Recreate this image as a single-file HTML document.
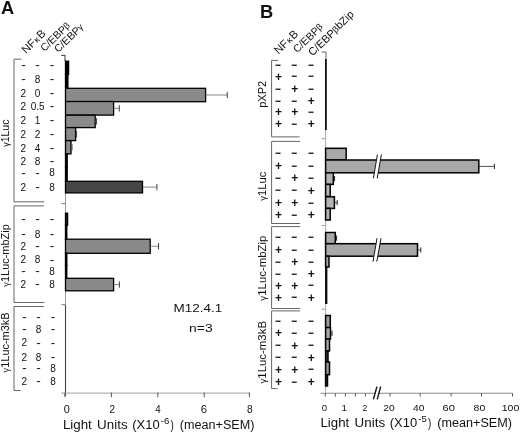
<!DOCTYPE html>
<html><head><meta charset="utf-8"><style>
html,body{margin:0;padding:0;background:#fff;overflow:hidden;}
svg{display:block;}
text{font-family:"Liberation Sans", Arial, sans-serif;fill:#111;}
</style></head><body>
<svg width="520" height="433" viewBox="0 0 520 433">
<rect width="520" height="433" fill="#fff"/>
<text x="1.10" y="14.40" font-size="18.2" text-anchor="start" font-weight="bold" >A</text>
<text x="25.90" y="54.20" font-size="11.3" transform="rotate(-44 25.90 54.20)">NF<tspan font-size="9" dx="0.8">&#954;</tspan><tspan dx="0.8">B</tspan></text>
<text x="44.50" y="52.00" font-size="10.5" transform="rotate(-44 44.50 52.00)">C/EBP<tspan font-size="9" dy="-0.6">&#946;</tspan></text>
<text x="58.30" y="53.00" font-size="10.5" transform="rotate(-44 58.30 53.00)">C/EBP<tspan font-size="9" dy="-0.6">&#947;</tspan></text>
<text x="23.40" y="68.50" font-size="13.5" text-anchor="middle">-</text>
<text x="37.60" y="68.50" font-size="13.5" text-anchor="middle">-</text>
<text x="52.00" y="68.50" font-size="13.5" text-anchor="middle">-</text>
<text x="23.40" y="82.90" font-size="13.5" text-anchor="middle">-</text>
<text x="37.60" y="82.70" font-size="10" text-anchor="middle" font-weight="normal" >8</text>
<text x="52.00" y="82.90" font-size="13.5" text-anchor="middle">-</text>
<text x="23.40" y="96.80" font-size="10" text-anchor="middle" font-weight="normal" >2</text>
<text x="37.60" y="96.80" font-size="10" text-anchor="middle" font-weight="normal" >0</text>
<text x="52.00" y="97.00" font-size="13.5" text-anchor="middle">-</text>
<text x="23.40" y="109.50" font-size="10" text-anchor="middle" font-weight="normal" >2</text>
<text x="37.60" y="109.50" font-size="10" text-anchor="middle" font-weight="normal" >0.5</text>
<text x="52.00" y="109.70" font-size="13.5" text-anchor="middle">-</text>
<text x="23.40" y="123.70" font-size="10" text-anchor="middle" font-weight="normal" >2</text>
<text x="37.60" y="123.70" font-size="10" text-anchor="middle" font-weight="normal" >1</text>
<text x="52.00" y="123.90" font-size="13.5" text-anchor="middle">-</text>
<text x="23.40" y="138.00" font-size="10" text-anchor="middle" font-weight="normal" >2</text>
<text x="37.60" y="138.00" font-size="10" text-anchor="middle" font-weight="normal" >2</text>
<text x="52.00" y="138.20" font-size="13.5" text-anchor="middle">-</text>
<text x="23.40" y="151.50" font-size="10" text-anchor="middle" font-weight="normal" >2</text>
<text x="37.60" y="151.50" font-size="10" text-anchor="middle" font-weight="normal" >4</text>
<text x="52.00" y="151.70" font-size="13.5" text-anchor="middle">-</text>
<text x="23.40" y="164.50" font-size="10" text-anchor="middle" font-weight="normal" >2</text>
<text x="37.60" y="164.50" font-size="10" text-anchor="middle" font-weight="normal" >8</text>
<text x="52.00" y="164.70" font-size="13.5" text-anchor="middle">-</text>
<text x="23.40" y="176.50" font-size="13.5" text-anchor="middle">-</text>
<text x="37.60" y="176.50" font-size="13.5" text-anchor="middle">-</text>
<text x="52.00" y="176.30" font-size="10" text-anchor="middle" font-weight="normal" >8</text>
<text x="23.40" y="191.00" font-size="10" text-anchor="middle" font-weight="normal" >2</text>
<text x="37.60" y="191.20" font-size="13.5" text-anchor="middle">-</text>
<text x="52.00" y="191.00" font-size="10" text-anchor="middle" font-weight="normal" >8</text>
<text x="23.40" y="223.40" font-size="13.5" text-anchor="middle">-</text>
<text x="37.60" y="223.40" font-size="13.5" text-anchor="middle">-</text>
<text x="52.00" y="223.40" font-size="13.5" text-anchor="middle">-</text>
<text x="23.40" y="237.80" font-size="13.5" text-anchor="middle">-</text>
<text x="37.60" y="237.60" font-size="10" text-anchor="middle" font-weight="normal" >8</text>
<text x="52.00" y="237.80" font-size="13.5" text-anchor="middle">-</text>
<text x="23.40" y="249.80" font-size="10" text-anchor="middle" font-weight="normal" >2</text>
<text x="37.60" y="250.00" font-size="13.5" text-anchor="middle">-</text>
<text x="52.00" y="250.00" font-size="13.5" text-anchor="middle">-</text>
<text x="23.40" y="263.40" font-size="10" text-anchor="middle" font-weight="normal" >2</text>
<text x="37.60" y="263.40" font-size="10" text-anchor="middle" font-weight="normal" >8</text>
<text x="52.00" y="263.60" font-size="13.5" text-anchor="middle">-</text>
<text x="23.40" y="274.70" font-size="13.5" text-anchor="middle">-</text>
<text x="37.60" y="274.70" font-size="13.5" text-anchor="middle">-</text>
<text x="52.00" y="274.50" font-size="10" text-anchor="middle" font-weight="normal" >8</text>
<text x="23.40" y="288.00" font-size="10" text-anchor="middle" font-weight="normal" >2</text>
<text x="37.60" y="288.20" font-size="13.5" text-anchor="middle">-</text>
<text x="52.00" y="288.00" font-size="10" text-anchor="middle" font-weight="normal" >8</text>
<text x="24.40" y="320.70" font-size="13.5" text-anchor="middle">-</text>
<text x="38.60" y="320.70" font-size="13.5" text-anchor="middle">-</text>
<text x="53.00" y="320.70" font-size="13.5" text-anchor="middle">-</text>
<text x="24.40" y="333.30" font-size="13.5" text-anchor="middle">-</text>
<text x="38.60" y="333.10" font-size="10" text-anchor="middle" font-weight="normal" >8</text>
<text x="53.00" y="333.30" font-size="13.5" text-anchor="middle">-</text>
<text x="24.40" y="346.40" font-size="10" text-anchor="middle" font-weight="normal" >2</text>
<text x="38.60" y="346.60" font-size="13.5" text-anchor="middle">-</text>
<text x="53.00" y="346.60" font-size="13.5" text-anchor="middle">-</text>
<text x="24.40" y="361.20" font-size="10" text-anchor="middle" font-weight="normal" >2</text>
<text x="38.60" y="361.20" font-size="10" text-anchor="middle" font-weight="normal" >8</text>
<text x="53.00" y="361.40" font-size="13.5" text-anchor="middle">-</text>
<text x="24.40" y="372.10" font-size="13.5" text-anchor="middle">-</text>
<text x="38.60" y="372.10" font-size="13.5" text-anchor="middle">-</text>
<text x="53.00" y="371.90" font-size="10" text-anchor="middle" font-weight="normal" >8</text>
<text x="24.40" y="384.50" font-size="10" text-anchor="middle" font-weight="normal" >2</text>
<text x="38.60" y="384.70" font-size="13.5" text-anchor="middle">-</text>
<text x="53.00" y="384.50" font-size="10" text-anchor="middle" font-weight="normal" >8</text>
<text x="0" y="0" transform="translate(9.00 146.83) rotate(-90)" textLength="27.31" lengthAdjust="spacingAndGlyphs"><tspan font-size="8.5">γ</tspan><tspan font-size="10">1Luc</tspan></text>
<text x="0" y="0" transform="translate(9.00 286.63) rotate(-90)" textLength="62.39" lengthAdjust="spacingAndGlyphs"><tspan font-size="8.5">γ</tspan><tspan font-size="10">1Luc-mbZip</tspan></text>
<text x="0" y="0" transform="translate(9.00 372.43) rotate(-90)" textLength="60.01" lengthAdjust="spacingAndGlyphs"><tspan font-size="8.5">γ</tspan><tspan font-size="10">1Luc-m3kB</tspan></text>
<path d="M21.3 59.2 H14.0 V201.8 H44.4" fill="none" stroke="#666" stroke-width="1.0"/>
<path d="M44.0 205.9 H14.0 V302.5 H44.4" fill="none" stroke="#666" stroke-width="1.0"/>
<path d="M44.0 306.5 H14.0 V390.5 H20.5" fill="none" stroke="#666" stroke-width="1.0"/>
<path d="M61.2 55.4 H65 V61" fill="none" stroke="#333" stroke-width="1"/>
<line x1="65.5" y1="55.4" x2="65.5" y2="393" stroke="#999" stroke-width="1"/>
<line x1="61.5" y1="203.7" x2="65" y2="203.7" stroke="#777" stroke-width="1"/>
<line x1="61.5" y1="304.7" x2="65" y2="304.7" stroke="#777" stroke-width="1"/>
<rect x="65.50" y="61.20" width="3.10" height="13.20" fill="#000" stroke="#000" stroke-width="1.3"/>
<rect x="65.50" y="74.40" width="2.40" height="13.10" fill="#000" stroke="#000" stroke-width="1.3"/>
<rect x="65.50" y="88.30" width="140.10" height="13.40" fill="#8a8a8a" stroke="#000" stroke-width="1.3"/>
<line x1="205.6" y1="95.0" x2="227.3" y2="95.0" stroke="#666" stroke-width="0.8"/>
<line x1="227.3" y1="91.8" x2="227.3" y2="98.2" stroke="#444" stroke-width="1"/>
<rect x="65.50" y="101.50" width="48.10" height="13.60" fill="#8a8a8a" stroke="#000" stroke-width="1.3"/>
<line x1="113.6" y1="108.3" x2="119.3" y2="108.3" stroke="#666" stroke-width="0.8"/>
<line x1="119.3" y1="105.1" x2="119.3" y2="111.5" stroke="#444" stroke-width="1"/>
<rect x="65.50" y="115.20" width="29.70" height="12.40" fill="#8a8a8a" stroke="#000" stroke-width="1.3"/>
<line x1="95.2" y1="121.4" x2="96.6" y2="121.4" stroke="#666" stroke-width="0.8"/>
<line x1="96.6" y1="118.2" x2="96.6" y2="124.60000000000001" stroke="#444" stroke-width="1"/>
<rect x="65.50" y="127.60" width="10.10" height="13.00" fill="#8a8a8a" stroke="#000" stroke-width="1.3"/>
<line x1="75.6" y1="134.1" x2="76.6" y2="134.1" stroke="#666" stroke-width="0.8"/>
<line x1="76.6" y1="130.9" x2="76.6" y2="137.29999999999998" stroke="#444" stroke-width="1"/>
<rect x="65.50" y="140.60" width="5.50" height="13.30" fill="#8a8a8a" stroke="#000" stroke-width="1.3"/>
<line x1="71.0" y1="147.25" x2="72.0" y2="147.25" stroke="#666" stroke-width="0.8"/>
<line x1="72.0" y1="144.05" x2="72.0" y2="150.45" stroke="#444" stroke-width="1"/>
<rect x="65.50" y="153.90" width="1.70" height="13.60" fill="#000" stroke="#000" stroke-width="1.3"/>
<rect x="65.50" y="167.50" width="1.70" height="13.80" fill="#000" stroke="#000" stroke-width="1.3"/>
<rect x="65.50" y="181.30" width="77.00" height="11.60" fill="#464646" stroke="#000" stroke-width="1.3"/>
<line x1="142.5" y1="187.10000000000002" x2="156.9" y2="187.10000000000002" stroke="#666" stroke-width="0.8"/>
<line x1="156.9" y1="183.90000000000003" x2="156.9" y2="190.3" stroke="#444" stroke-width="1"/>
<rect x="65.50" y="213.20" width="2.10" height="12.10" fill="#222" stroke="#000" stroke-width="1.3"/>
<rect x="65.50" y="225.30" width="1.30" height="14.00" fill="#000" stroke="#000" stroke-width="1.3"/>
<rect x="65.50" y="239.20" width="84.70" height="14.10" fill="#8a8a8a" stroke="#000" stroke-width="1.3"/>
<line x1="150.2" y1="246.25" x2="158.5" y2="246.25" stroke="#666" stroke-width="0.8"/>
<line x1="158.5" y1="243.05" x2="158.5" y2="249.45" stroke="#444" stroke-width="1"/>
<rect x="65.50" y="253.20" width="1.30" height="12.30" fill="#000" stroke="#000" stroke-width="1.3"/>
<rect x="65.50" y="265.50" width="1.30" height="12.60" fill="#000" stroke="#000" stroke-width="1.3"/>
<rect x="65.50" y="278.30" width="48.10" height="12.50" fill="#8a8a8a" stroke="#000" stroke-width="1.3"/>
<line x1="113.6" y1="284.55" x2="119.4" y2="284.55" stroke="#666" stroke-width="0.8"/>
<line x1="119.4" y1="281.35" x2="119.4" y2="287.75" stroke="#444" stroke-width="1"/>
<rect x="64.95" y="305" width="1.1" height="91" fill="#444"/>
<line x1="61" y1="393.1" x2="250" y2="393.1" stroke="#b0b0b0" stroke-width="1.2"/>
<line x1="64.9" y1="392.6" x2="64.9" y2="397.2" stroke="#555" stroke-width="1"/>
<line x1="111.4" y1="392.6" x2="111.4" y2="397.2" stroke="#555" stroke-width="1"/>
<line x1="157.8" y1="392.6" x2="157.8" y2="397.2" stroke="#555" stroke-width="1"/>
<line x1="204.2" y1="392.6" x2="204.2" y2="397.2" stroke="#555" stroke-width="1"/>
<line x1="249.4" y1="392.6" x2="249.4" y2="397.2" stroke="#555" stroke-width="1"/>
<text x="63.83" y="412.60" font-size="10.5" textLength="6.05" lengthAdjust="spacingAndGlyphs" >0</text>
<text x="109.55" y="412.60" font-size="10.5" textLength="5.49" lengthAdjust="spacingAndGlyphs" >2</text>
<text x="155.13" y="412.60" font-size="10.5" textLength="5.41" lengthAdjust="spacingAndGlyphs" >4</text>
<text x="200.88" y="412.60" font-size="10.5" textLength="6.27" lengthAdjust="spacingAndGlyphs" >6</text>
<text x="246.91" y="412.60" font-size="10.5" textLength="5.69" lengthAdjust="spacingAndGlyphs" >8</text>
<text x="62.91" y="428.60" font-size="12.0" textLength="28.89" lengthAdjust="spacingAndGlyphs" >Light</text>
<text x="97.07" y="428.60" font-size="12.0" textLength="30.52" lengthAdjust="spacingAndGlyphs" >Units</text>
<text x="132.30" y="428.60" font-size="12.0" textLength="27.41" lengthAdjust="spacingAndGlyphs" >(X10</text>
<text x="160.87" y="424.20" font-size="8.5" textLength="8.55" lengthAdjust="spacingAndGlyphs" >-6</text>
<text x="170.44" y="428.60" font-size="12.0" textLength="3.27" lengthAdjust="spacingAndGlyphs" >)</text>
<text x="179.72" y="428.60" font-size="12.0" textLength="74.77" lengthAdjust="spacingAndGlyphs" >(mean+SEM)</text>
<text x="173.50" y="311.70" font-size="11.0" textLength="48.66" lengthAdjust="spacingAndGlyphs" >M12.4.1</text>
<text x="189.08" y="332.00" font-size="11.0" textLength="23.53" lengthAdjust="spacingAndGlyphs" >n=3</text>
<text x="259.90" y="17.70" font-size="18.3" text-anchor="start" font-weight="bold" >B</text>
<text x="278.40" y="54.80" font-size="11.3" transform="rotate(-44 278.40 54.80)">NF<tspan font-size="9" dx="0.8">&#954;</tspan><tspan dx="0.8">B</tspan></text>
<text x="297.30" y="53.30" font-size="10.5" transform="rotate(-44 297.30 53.30)">C/EBP<tspan font-size="9" dy="-0.6">&#946;</tspan></text>
<text x="312.60" y="56.60" font-size="10.9" transform="rotate(-44 312.60 56.60)">C/EBP<tspan font-size="9" dy="-0.6">&#946;</tspan>bZip</text>
<text x="0" y="0" transform="translate(278.30 69.00) scale(0.84 1)" font-size="12" font-weight="bold" text-anchor="middle">&#8722;</text>
<text x="0" y="0" transform="translate(294.50 69.00) scale(0.84 1)" font-size="12" font-weight="bold" text-anchor="middle">&#8722;</text>
<text x="0" y="0" transform="translate(311.10 69.00) scale(0.84 1)" font-size="12" font-weight="bold" text-anchor="middle">&#8722;</text>
<text x="278.50" y="80.60" font-size="12" font-weight="bold" text-anchor="middle">+</text>
<text x="0" y="0" transform="translate(294.50 80.40) scale(0.84 1)" font-size="12" font-weight="bold" text-anchor="middle">&#8722;</text>
<text x="0" y="0" transform="translate(311.10 80.40) scale(0.84 1)" font-size="12" font-weight="bold" text-anchor="middle">&#8722;</text>
<text x="0" y="0" transform="translate(278.30 92.90) scale(0.84 1)" font-size="12" font-weight="bold" text-anchor="middle">&#8722;</text>
<text x="294.70" y="93.10" font-size="12" font-weight="bold" text-anchor="middle">+</text>
<text x="0" y="0" transform="translate(311.10 92.90) scale(0.84 1)" font-size="12" font-weight="bold" text-anchor="middle">&#8722;</text>
<text x="0" y="0" transform="translate(278.30 104.50) scale(0.84 1)" font-size="12" font-weight="bold" text-anchor="middle">&#8722;</text>
<text x="0" y="0" transform="translate(294.50 104.50) scale(0.84 1)" font-size="12" font-weight="bold" text-anchor="middle">&#8722;</text>
<text x="311.30" y="104.70" font-size="12" font-weight="bold" text-anchor="middle">+</text>
<text x="278.50" y="116.20" font-size="12" font-weight="bold" text-anchor="middle">+</text>
<text x="294.70" y="116.20" font-size="12" font-weight="bold" text-anchor="middle">+</text>
<text x="0" y="0" transform="translate(311.10 116.00) scale(0.84 1)" font-size="12" font-weight="bold" text-anchor="middle">&#8722;</text>
<text x="278.50" y="128.00" font-size="12" font-weight="bold" text-anchor="middle">+</text>
<text x="0" y="0" transform="translate(294.50 127.80) scale(0.84 1)" font-size="12" font-weight="bold" text-anchor="middle">&#8722;</text>
<text x="311.30" y="128.00" font-size="12" font-weight="bold" text-anchor="middle">+</text>
<text x="0" y="0" transform="translate(278.30 157.30) scale(0.84 1)" font-size="12" font-weight="bold" text-anchor="middle">&#8722;</text>
<text x="0" y="0" transform="translate(294.50 157.30) scale(0.84 1)" font-size="12" font-weight="bold" text-anchor="middle">&#8722;</text>
<text x="0" y="0" transform="translate(311.10 157.30) scale(0.84 1)" font-size="12" font-weight="bold" text-anchor="middle">&#8722;</text>
<text x="278.50" y="170.00" font-size="12" font-weight="bold" text-anchor="middle">+</text>
<text x="0" y="0" transform="translate(294.50 169.80) scale(0.84 1)" font-size="12" font-weight="bold" text-anchor="middle">&#8722;</text>
<text x="0" y="0" transform="translate(311.10 169.80) scale(0.84 1)" font-size="12" font-weight="bold" text-anchor="middle">&#8722;</text>
<text x="0" y="0" transform="translate(278.30 182.20) scale(0.84 1)" font-size="12" font-weight="bold" text-anchor="middle">&#8722;</text>
<text x="294.70" y="182.40" font-size="12" font-weight="bold" text-anchor="middle">+</text>
<text x="0" y="0" transform="translate(311.10 182.20) scale(0.84 1)" font-size="12" font-weight="bold" text-anchor="middle">&#8722;</text>
<text x="0" y="0" transform="translate(278.30 194.30) scale(0.84 1)" font-size="12" font-weight="bold" text-anchor="middle">&#8722;</text>
<text x="0" y="0" transform="translate(294.50 194.30) scale(0.84 1)" font-size="12" font-weight="bold" text-anchor="middle">&#8722;</text>
<text x="311.30" y="194.50" font-size="12" font-weight="bold" text-anchor="middle">+</text>
<text x="278.50" y="207.00" font-size="12" font-weight="bold" text-anchor="middle">+</text>
<text x="294.70" y="207.00" font-size="12" font-weight="bold" text-anchor="middle">+</text>
<text x="0" y="0" transform="translate(311.10 206.80) scale(0.84 1)" font-size="12" font-weight="bold" text-anchor="middle">&#8722;</text>
<text x="278.50" y="219.00" font-size="12" font-weight="bold" text-anchor="middle">+</text>
<text x="0" y="0" transform="translate(294.50 218.80) scale(0.84 1)" font-size="12" font-weight="bold" text-anchor="middle">&#8722;</text>
<text x="311.30" y="219.00" font-size="12" font-weight="bold" text-anchor="middle">+</text>
<text x="0" y="0" transform="translate(278.30 241.40) scale(0.84 1)" font-size="12" font-weight="bold" text-anchor="middle">&#8722;</text>
<text x="0" y="0" transform="translate(294.50 241.40) scale(0.84 1)" font-size="12" font-weight="bold" text-anchor="middle">&#8722;</text>
<text x="0" y="0" transform="translate(311.10 241.40) scale(0.84 1)" font-size="12" font-weight="bold" text-anchor="middle">&#8722;</text>
<text x="278.50" y="253.70" font-size="12" font-weight="bold" text-anchor="middle">+</text>
<text x="0" y="0" transform="translate(294.50 253.50) scale(0.84 1)" font-size="12" font-weight="bold" text-anchor="middle">&#8722;</text>
<text x="0" y="0" transform="translate(311.10 253.50) scale(0.84 1)" font-size="12" font-weight="bold" text-anchor="middle">&#8722;</text>
<text x="0" y="0" transform="translate(278.30 266.00) scale(0.84 1)" font-size="12" font-weight="bold" text-anchor="middle">&#8722;</text>
<text x="294.70" y="266.20" font-size="12" font-weight="bold" text-anchor="middle">+</text>
<text x="0" y="0" transform="translate(311.10 266.00) scale(0.84 1)" font-size="12" font-weight="bold" text-anchor="middle">&#8722;</text>
<text x="0" y="0" transform="translate(278.30 277.80) scale(0.84 1)" font-size="12" font-weight="bold" text-anchor="middle">&#8722;</text>
<text x="0" y="0" transform="translate(294.50 277.80) scale(0.84 1)" font-size="12" font-weight="bold" text-anchor="middle">&#8722;</text>
<text x="311.30" y="278.00" font-size="12" font-weight="bold" text-anchor="middle">+</text>
<text x="278.50" y="289.50" font-size="12" font-weight="bold" text-anchor="middle">+</text>
<text x="294.70" y="289.50" font-size="12" font-weight="bold" text-anchor="middle">+</text>
<text x="0" y="0" transform="translate(311.10 289.30) scale(0.84 1)" font-size="12" font-weight="bold" text-anchor="middle">&#8722;</text>
<text x="278.50" y="301.50" font-size="12" font-weight="bold" text-anchor="middle">+</text>
<text x="0" y="0" transform="translate(294.50 301.30) scale(0.84 1)" font-size="12" font-weight="bold" text-anchor="middle">&#8722;</text>
<text x="311.30" y="301.50" font-size="12" font-weight="bold" text-anchor="middle">+</text>
<text x="0" y="0" transform="translate(278.30 324.80) scale(0.84 1)" font-size="12" font-weight="bold" text-anchor="middle">&#8722;</text>
<text x="0" y="0" transform="translate(294.50 324.80) scale(0.84 1)" font-size="12" font-weight="bold" text-anchor="middle">&#8722;</text>
<text x="0" y="0" transform="translate(311.10 324.80) scale(0.84 1)" font-size="12" font-weight="bold" text-anchor="middle">&#8722;</text>
<text x="278.50" y="337.10" font-size="12" font-weight="bold" text-anchor="middle">+</text>
<text x="0" y="0" transform="translate(294.50 336.90) scale(0.84 1)" font-size="12" font-weight="bold" text-anchor="middle">&#8722;</text>
<text x="0" y="0" transform="translate(311.10 336.90) scale(0.84 1)" font-size="12" font-weight="bold" text-anchor="middle">&#8722;</text>
<text x="0" y="0" transform="translate(278.30 349.30) scale(0.84 1)" font-size="12" font-weight="bold" text-anchor="middle">&#8722;</text>
<text x="294.70" y="349.50" font-size="12" font-weight="bold" text-anchor="middle">+</text>
<text x="0" y="0" transform="translate(311.10 349.30) scale(0.84 1)" font-size="12" font-weight="bold" text-anchor="middle">&#8722;</text>
<text x="0" y="0" transform="translate(278.30 361.40) scale(0.84 1)" font-size="12" font-weight="bold" text-anchor="middle">&#8722;</text>
<text x="0" y="0" transform="translate(294.50 361.40) scale(0.84 1)" font-size="12" font-weight="bold" text-anchor="middle">&#8722;</text>
<text x="311.30" y="361.60" font-size="12" font-weight="bold" text-anchor="middle">+</text>
<text x="278.50" y="373.50" font-size="12" font-weight="bold" text-anchor="middle">+</text>
<text x="294.70" y="373.50" font-size="12" font-weight="bold" text-anchor="middle">+</text>
<text x="0" y="0" transform="translate(311.10 373.30) scale(0.84 1)" font-size="12" font-weight="bold" text-anchor="middle">&#8722;</text>
<text x="278.50" y="385.90" font-size="12" font-weight="bold" text-anchor="middle">+</text>
<text x="0" y="0" transform="translate(294.50 385.70) scale(0.84 1)" font-size="12" font-weight="bold" text-anchor="middle">&#8722;</text>
<text x="311.30" y="385.90" font-size="12" font-weight="bold" text-anchor="middle">+</text>
<text x="0" y="0" transform="translate(265.60 107.81) rotate(-90)" textLength="27.07" lengthAdjust="spacingAndGlyphs"><tspan font-size="10.8">pXP2</tspan></text>
<text x="0" y="0" transform="translate(265.60 200.63) rotate(-90)" textLength="28.83" lengthAdjust="spacingAndGlyphs"><tspan font-size="9.2">γ</tspan><tspan font-size="10.8">1Luc</tspan></text>
<text x="0" y="0" transform="translate(265.60 300.63) rotate(-90)" textLength="65.11" lengthAdjust="spacingAndGlyphs"><tspan font-size="9.2">γ</tspan><tspan font-size="10.8">1Luc-mbZip</tspan></text>
<text x="0" y="0" transform="translate(265.60 383.53) rotate(-90)" textLength="62.53" lengthAdjust="spacingAndGlyphs"><tspan font-size="9.2">γ</tspan><tspan font-size="10.8">1Luc-m3kB</tspan></text>
<path d="M278.0 60.4 H271.6 V136.9 H299.7" fill="none" stroke="#666" stroke-width="1.0"/>
<path d="M300.0 141.4 H271.6 V223.5 H300.0" fill="none" stroke="#666" stroke-width="1.0"/>
<path d="M300.0 226.6 H271.6 V308.5 H300.0" fill="none" stroke="#666" stroke-width="1.0"/>
<path d="M300.0 310.9 H271.6 V388.6 H277.5" fill="none" stroke="#666" stroke-width="1.0"/>
<path d="M321.6 52 H326 V59.6" fill="none" stroke="#555" stroke-width="0.9"/>
<line x1="325.6" y1="55" x2="325.6" y2="393.6" stroke="#aaa" stroke-width="1"/>
<line x1="321.5" y1="138.7" x2="325" y2="138.7" stroke="#999" stroke-width="1"/>
<line x1="321.5" y1="225.6" x2="325" y2="225.6" stroke="#999" stroke-width="1"/>
<line x1="321.5" y1="309.1" x2="325" y2="309.1" stroke="#999" stroke-width="1"/>
<rect x="325.0" y="59" width="1.8" height="71" fill="#111"/>
<rect x="325.60" y="148.30" width="20.60" height="11.70" fill="#a8a8a8" stroke="#000" stroke-width="1.5"/>
<rect x="325.60" y="160.00" width="153.20" height="12.80" fill="#a8a8a8" stroke="#000" stroke-width="1.5"/>
<line x1="478.8" y1="166.4" x2="494.4" y2="166.4" stroke="#222" stroke-width="0.8"/>
<line x1="494.4" y1="163.8" x2="494.4" y2="169.0" stroke="#222" stroke-width="1"/>
<polygon points="373.2,178.3 377.2,154.5 381.4,154.5 377.4,178.3" fill="#fff"/>
<line x1="373.4" y1="178.3" x2="377.4" y2="154.5" stroke="#111" stroke-width="1"/>
<line x1="377.2" y1="178.3" x2="381.4" y2="154.5" stroke="#111" stroke-width="1"/>
<rect x="325.60" y="172.80" width="7.70" height="11.60" fill="#b4b4b4" stroke="#000" stroke-width="1.5"/>
<line x1="333.3" y1="178.60000000000002" x2="334.6" y2="178.60000000000002" stroke="#222" stroke-width="0.8"/>
<line x1="334.6" y1="176.00000000000003" x2="334.6" y2="181.20000000000002" stroke="#222" stroke-width="1"/>
<rect x="325.60" y="184.40" width="4.60" height="12.00" fill="#b4b4b4" stroke="#000" stroke-width="1.5"/>
<rect x="325.60" y="196.80" width="8.80" height="11.60" fill="#b4b4b4" stroke="#000" stroke-width="1.5"/>
<line x1="334.4" y1="202.60000000000002" x2="337.2" y2="202.60000000000002" stroke="#222" stroke-width="0.8"/>
<line x1="337.2" y1="200.00000000000003" x2="337.2" y2="205.20000000000002" stroke="#222" stroke-width="1"/>
<rect x="325.60" y="208.40" width="4.60" height="11.60" fill="#b4b4b4" stroke="#000" stroke-width="1.5"/>
<rect x="325.60" y="232.50" width="9.70" height="11.20" fill="#a8a8a8" stroke="#000" stroke-width="1.5"/>
<line x1="335.3" y1="238.1" x2="336.6" y2="238.1" stroke="#222" stroke-width="0.8"/>
<line x1="336.6" y1="235.5" x2="336.6" y2="240.7" stroke="#222" stroke-width="1"/>
<rect x="325.60" y="243.70" width="91.90" height="12.50" fill="#a8a8a8" stroke="#000" stroke-width="1.5"/>
<line x1="417.5" y1="249.95" x2="420.8" y2="249.95" stroke="#222" stroke-width="0.8"/>
<line x1="420.8" y1="247.35" x2="420.8" y2="252.54999999999998" stroke="#222" stroke-width="1"/>
<polygon points="372.8,261.7 376.8,238.2 381.0,238.2 377.0,261.7" fill="#fff"/>
<line x1="373.0" y1="261.7" x2="377.0" y2="238.2" stroke="#111" stroke-width="1"/>
<line x1="376.8" y1="261.7" x2="381.0" y2="238.2" stroke="#111" stroke-width="1"/>
<rect x="325.60" y="256.20" width="3.40" height="10.80" fill="#a8a8a8" stroke="#000" stroke-width="1.5"/>
<rect x="325.0" y="267" width="2.4" height="37" fill="#111"/>
<rect x="325.60" y="315.50" width="4.70" height="12.10" fill="#999" stroke="#000" stroke-width="1.5"/>
<rect x="325.60" y="327.60" width="4.90" height="11.40" fill="#a8a8a8" stroke="#000" stroke-width="1.5"/>
<line x1="330.5" y1="333.3" x2="332" y2="333.3" stroke="#222" stroke-width="0.8"/>
<line x1="332" y1="330.7" x2="332" y2="335.90000000000003" stroke="#222" stroke-width="1"/>
<rect x="325.60" y="339.00" width="3.90" height="12.00" fill="#aaa" stroke="#000" stroke-width="1.5"/>
<rect x="325.60" y="351.00" width="2.40" height="11.00" fill="#444" stroke="#000" stroke-width="1.5"/>
<rect x="325.60" y="362.00" width="3.90" height="12.70" fill="#999" stroke="#000" stroke-width="1.5"/>
<rect x="325.60" y="374.70" width="1.90" height="11.30" fill="#444" stroke="#000" stroke-width="1.5"/>
<line x1="320.4" y1="393.3" x2="512.5" y2="393.3" stroke="#888" stroke-width="1.1"/>
<line x1="325.3" y1="393.3" x2="325.3" y2="396.5" stroke="#555" stroke-width="1"/>
<line x1="335.3" y1="393.3" x2="335.3" y2="396.5" stroke="#555" stroke-width="1"/>
<line x1="345.4" y1="393.3" x2="345.4" y2="396.5" stroke="#555" stroke-width="1"/>
<line x1="355.4" y1="393.3" x2="355.4" y2="396.5" stroke="#555" stroke-width="1"/>
<line x1="365.4" y1="393.3" x2="365.4" y2="396.5" stroke="#555" stroke-width="1"/>
<line x1="390.1" y1="393.3" x2="390.1" y2="396.5" stroke="#555" stroke-width="1"/>
<line x1="420.2" y1="393.3" x2="420.2" y2="396.5" stroke="#555" stroke-width="1"/>
<line x1="451.1" y1="393.3" x2="451.1" y2="396.5" stroke="#555" stroke-width="1"/>
<line x1="481.5" y1="393.3" x2="481.5" y2="396.5" stroke="#555" stroke-width="1"/>
<line x1="512.5" y1="393.3" x2="512.5" y2="396.5" stroke="#555" stroke-width="1"/>
<polygon points="373.8,400 377.4,386 380.6,386 377,400" fill="#fff"/>
<line x1="373.4" y1="399.4" x2="376.9" y2="386.6" stroke="#111" stroke-width="1.4"/>
<line x1="377.2" y1="399.4" x2="380.7" y2="386.6" stroke="#111" stroke-width="1.4"/>
<text x="321.72" y="411.40" font-size="9.8" textLength="5.35" lengthAdjust="spacingAndGlyphs" >0</text>
<text x="362.57" y="411.40" font-size="9.8" textLength="4.76" lengthAdjust="spacingAndGlyphs" >2</text>
<text x="383.28" y="411.40" font-size="9.8" textLength="11.42" lengthAdjust="spacingAndGlyphs" >20</text>
<text x="413.06" y="411.40" font-size="9.8" textLength="11.44" lengthAdjust="spacingAndGlyphs" >40</text>
<text x="442.63" y="411.40" font-size="9.8" textLength="12.40" lengthAdjust="spacingAndGlyphs" >60</text>
<text x="473.54" y="411.40" font-size="9.8" textLength="11.77" lengthAdjust="spacingAndGlyphs" >80</text>
<text x="501.70" y="411.40" font-size="9.8" textLength="17.62" lengthAdjust="spacingAndGlyphs" >100</text>
<text x="344.20" y="411.40" font-size="9.8" text-anchor="middle" font-weight="normal" >1</text>
<text x="320.41" y="426.80" font-size="12.0" textLength="28.89" lengthAdjust="spacingAndGlyphs" >Light</text>
<text x="354.57" y="426.80" font-size="12.0" textLength="30.52" lengthAdjust="spacingAndGlyphs" >Units</text>
<text x="389.80" y="426.80" font-size="12.0" textLength="27.41" lengthAdjust="spacingAndGlyphs" >(X10</text>
<text x="418.37" y="422.40" font-size="8.5" textLength="8.53" lengthAdjust="spacingAndGlyphs" >-5</text>
<text x="427.94" y="426.80" font-size="12.0" textLength="3.27" lengthAdjust="spacingAndGlyphs" >)</text>
<text x="437.22" y="426.80" font-size="12.0" textLength="74.77" lengthAdjust="spacingAndGlyphs" >(mean+SEM)</text>
</svg>
</body></html>
